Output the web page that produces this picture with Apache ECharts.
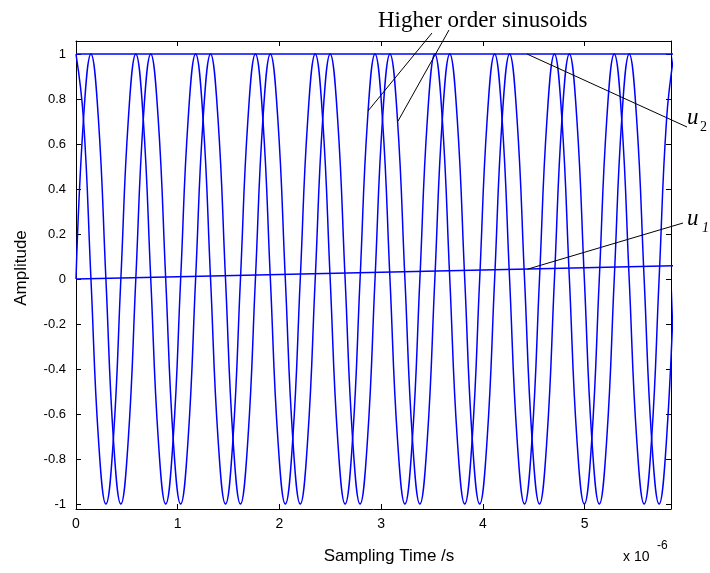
<!DOCTYPE html>
<html>
<head>
<meta charset="utf-8">
<script src="https://cdn.jsdelivr.net/npm/echarts@6/dist/echarts.min.js"></script>
<style>
  html, body { margin: 0; padding: 0; background: #ffffff; }
  #chart { width: 710px; height: 573px; }
</style>
</head>
<body>
<div id="chart"></div>
<script>
// Sampling instants (x 10^-6 s), one every eighth of a harmonic period
const sampleTimes = [
  0, 0.0735, 0.147, 0.2205, 0.294, 0.3675, 0.441, 0.5145,
  0.588, 0.6615, 0.735, 0.8085, 0.882, 0.9555, 1.029, 1.1025,
  1.176, 1.2495, 1.323, 1.3965, 1.47, 1.5435, 1.617, 1.6905,
  1.764, 1.8375, 1.911, 1.9845, 2.058, 2.1315, 2.205, 2.2785,
  2.352, 2.4255, 2.499, 2.5725, 2.646, 2.7195, 2.793, 2.8665,
  2.94, 3.0135, 3.087, 3.1605, 3.234, 3.3075, 3.381, 3.4545,
  3.528, 3.6015, 3.675, 3.7485, 3.822, 3.8955, 3.969, 4.0425,
  4.116, 4.1895, 4.263, 4.3365, 4.41, 4.4835, 4.557, 4.6305,
  4.704, 4.7775, 4.851, 4.9245, 4.998, 5.0715, 5.145, 5.2185,
  5.292, 5.3655, 5.439, 5.5125, 5.586, 5.6595, 5.733, 5.8065,
  5.88
];

// Higher order sinusoid, cosine phase
const harmonicCos = [
  1, 0.71, 0, -0.71, -1, -0.71, 0, 0.71,
  1, 0.71, 0, -0.71, -1, -0.71, 0, 0.71,
  1, 0.71, 0, -0.71, -1, -0.71, 0, 0.71,
  1, 0.71, 0, -0.71, -1, -0.71, 0, 0.71,
  1, 0.71, 0, -0.71, -1, -0.71, 0, 0.71,
  1, 0.71, 0, -0.71, -1, -0.71, 0, 0.71,
  1, 0.71, 0, -0.71, -1, -0.71, 0, 0.71,
  1, 0.71, 0, -0.71, -1, -0.71, 0, 0.71,
  1, 0.71, 0, -0.71, -1, -0.71, 0, 0.71,
  1, 0.71, 0, -0.71, -1, -0.71, 0, 0.71,
  1
];

// Higher order sinusoid, sine phase
const harmonicSin = [
  0, 0.71, 1, 0.71, 0, -0.71, -1, -0.71,
  0, 0.71, 1, 0.71, 0, -0.71, -1, -0.71,
  0, 0.71, 1, 0.71, 0, -0.71, -1, -0.71,
  0, 0.71, 1, 0.71, 0, -0.71, -1, -0.71,
  0, 0.71, 1, 0.71, 0, -0.71, -1, -0.71,
  0, 0.71, 1, 0.71, 0, -0.71, -1, -0.71,
  0, 0.71, 1, 0.71, 0, -0.71, -1, -0.71,
  0, 0.71, 1, 0.71, 0, -0.71, -1, -0.71,
  0, 0.71, 1, 0.71, 0, -0.71, -1, -0.71,
  0, 0.71, 1, 0.71, 0, -0.71, -1, -0.71,
  0
];

// Fundamental components
const u1Times = [0, 1, 2, 3, 4, 5, 5.88];
const u1Values = [0, 0.010, 0.020, 0.030, 0.040, 0.050, 0.059];
const u2Times = [0, 5.88];
const u2Values = [1, 1];

// Axis ticks
const xTicks = [0, 1, 2, 3, 4, 5];
const yTicks = [-1, -0.8, -0.6, -0.4, -0.2, 0, 0.2, 0.4, 0.6, 0.8, 1];

const X_MIN = 0, X_MAX = 5.85, Y_MIN = -1.022, Y_MAX = 1.058;
const SANS = '"Liberation Sans", Arial, sans-serif';
const SERIF = '"Liberation Serif", "Times New Roman", serif';
const BLUE = '#0000ff';

const pairs = (xs, ys) => xs.map((x, i) => [x, ys[i]]);

function yLabel(v) {
  const r = Math.round(v * 10) / 10;
  if (r === 0) return '0';
  if (Math.abs(r) === 1) return String(r);
  return r.toFixed(1);
}

function axisCommon(extra) {
  return Object.assign({
    type: 'value',
    axisLine: { show: true, onZero: false, lineStyle: { color: '#000', width: 1 } },
    axisTick: { show: true, inside: true, length: 5, lineStyle: { color: '#000' } },
    splitLine: { show: false },
    axisLabel: { show: false }
  }, extra);
}

const chart = echarts.init(document.getElementById('chart'), null, { renderer: 'canvas' });

const lineSeries = (name, data, smooth) => ({
  name,
  type: 'line',
  data,
  xAxisIndex: 0,
  yAxisIndex: 0,
  showSymbol: false,
  smooth: smooth,
  clip: true,
  lineStyle: { color: BLUE, width: 1.5 },
  itemStyle: { color: BLUE },
  emphasis: { disabled: true },
  animation: false
});

chart.setOption({
  animation: false,
  backgroundColor: '#ffffff',
  grid: { left: 76, right: 39, top: 41, bottom: 64 },
  xAxis: [
    axisCommon({
      position: 'bottom', min: X_MIN, max: X_MAX,
      axisTick: { show: true, inside: true, length: 5, lineStyle: { color: '#000' }, customValues: xTicks },
      axisLabel: {
        show: true, customValues: xTicks, margin: 8, color: '#000',
        fontFamily: SANS, fontSize: 14, formatter: v => String(Math.round(v))
      }
    }),
    axisCommon({
      position: 'top', min: X_MIN, max: X_MAX,
      axisTick: { show: true, inside: true, length: 5, lineStyle: { color: '#000' }, customValues: xTicks }
    })
  ],
  yAxis: [
    axisCommon({
      position: 'left', min: Y_MIN, max: Y_MAX,
      axisTick: { show: true, inside: true, length: 5, lineStyle: { color: '#000' }, customValues: yTicks },
      axisLabel: {
        show: true, customValues: yTicks, margin: 10, color: '#000',
        fontFamily: SANS, fontSize: 13, formatter: yLabel
      }
    }),
    axisCommon({
      position: 'right', min: Y_MIN, max: Y_MAX,
      axisTick: { show: true, inside: true, length: 5, lineStyle: { color: '#000' }, customValues: yTicks }
    })
  ],
  series: [
    lineSeries('harmonic cos', pairs(sampleTimes, harmonicCos), 0.45),
    lineSeries('harmonic sin', pairs(sampleTimes, harmonicSin), 0.45),
    lineSeries('u1', pairs(u1Times, u1Values), false),
    lineSeries('u2', pairs(u2Times, u2Values), false)
  ]
});

// Annotations: leader lines from the labels to points on the curves
const toPx = (t, v) => chart.convertToPixel({ xAxisIndex: 0, yAxisIndex: 0 }, [t, v]);
const leader = (from, to) => ({
  type: 'line', silent: true, z: 100,
  shape: { x1: from[0], y1: from[1], x2: to[0], y2: to[1] },
  style: { stroke: '#000', lineWidth: 1 }
});
const label = (text, x, y, font, align) => ({
  type: 'text', silent: true, z: 100,
  style: { text, x, y, font, fill: '#000', align: align || 'left', verticalAlign: 'middle' }
});

chart.setOption({
  graphic: [
    label('Higher order sinusoids', 378, 21, '23px ' + SERIF),
    leader([432, 33], toPx(2.871, 0.747)),
    leader([449, 30], toPx(3.166, 0.702)),

    leader(toPx(4.435, 1.0), [687, 127]),
    label('u', 687, 118, 'italic 23px ' + SERIF),
    label('2', 700, 127, '14px ' + SERIF),

    leader(toPx(4.44, 0.044), [683, 223]),
    label('u', 687, 219, 'italic 23px ' + SERIF),
    label('1', 702, 228, 'italic 14px ' + SERIF),

    {
      type: 'text', silent: true, z: 100, rotation: Math.PI / 2, x: 21, y: 268,
      style: { text: 'Amplitude', font: '17px ' + SANS, fill: '#000', align: 'center', verticalAlign: 'middle' }
    },
    label('Sampling Time /s', 389, 556, '17px ' + SANS, 'center'),
    label('x 10', 623, 557, '14px ' + SANS),
    label('-6', 657, 546, '12px ' + SANS)
  ]
});
</script>
</body>
</html>
